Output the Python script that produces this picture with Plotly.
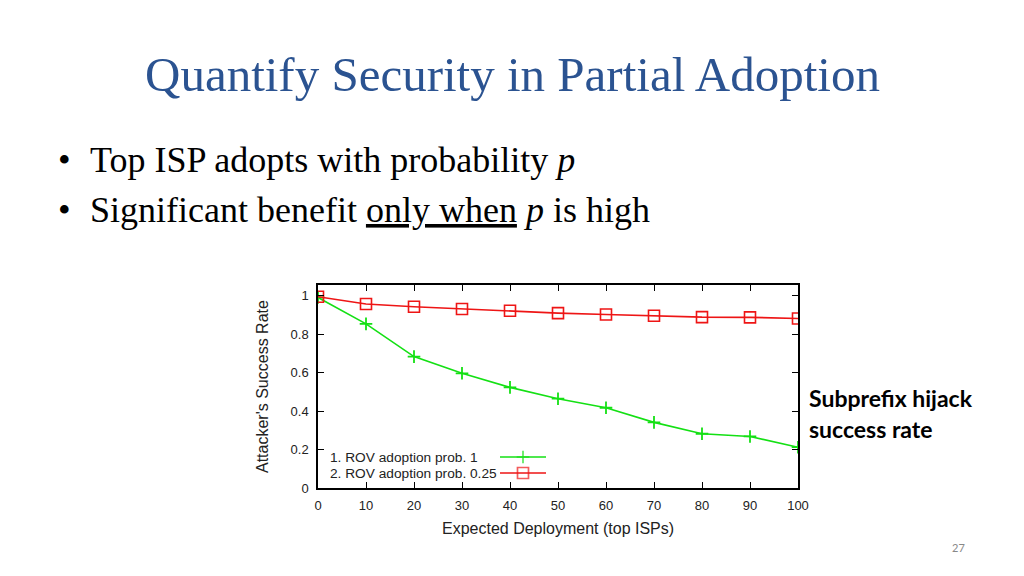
import plotly.graph_objects as go

# ---- data ----
deployment = [0, 10, 20, 30, 40, 50, 60, 70, 80, 90, 100]
rov_prob_1 = [0.99, 0.853, 0.683, 0.596, 0.523, 0.464, 0.417, 0.341, 0.282, 0.268, 0.212]
rov_prob_025 = [0.994, 0.956, 0.942, 0.930, 0.921, 0.909, 0.902, 0.895, 0.888, 0.887, 0.881]
y_ticks = [0, 0.2, 0.4, 0.6, 0.8, 1]
y_tick_text = ["0", "0.2", "0.4", "0.6", "0.8", "1"]
x_ticks = [0, 10, 20, 30, 40, 50, 60, 70, 80, 90, 100]
series_names = ["1. ROV adoption prob. 1", "2. ROV adoption prob. 0.25"]

GREEN = "#14e014"
RED = "#ee1515"

# page offset (browser body margin)
OFF = 8
# plot area in target-page pixels
L, R, T, B = 318, 798, 285, 488
W, H = 1024, 576


def px(x):
    return (x - L) / (R - L)


def py(y):
    return (B - y) / (B - T)


fig = go.Figure()
fig.add_trace(go.Scatter(
    x=deployment, y=rov_prob_1, mode="lines+markers", name=series_names[0],
    line=dict(color=GREEN, width=1.6),
    marker=dict(symbol="cross-thin", size=9, line=dict(color=GREEN, width=1.8)),
    showlegend=False))
fig.add_trace(go.Scatter(
    x=deployment, y=rov_prob_025, mode="lines+markers", name=series_names[1],
    line=dict(color=RED, width=1.6),
    marker=dict(symbol="square-open", size=11, color=RED, line=dict(color=RED, width=1.6)),
    showlegend=False))

# legend samples (gnuplot style: sample to the right of the text)
leg_y = [py(457), py(473)]
for i, (col, sym, sz) in enumerate([(GREEN, "cross-thin", 9), (RED, "square-open", 11)]):
    fig.add_trace(go.Scatter(
        x=[px(500), px(523), px(546)], y=[leg_y[i]] * 3, mode="lines+markers",
        xaxis="x2", yaxis="y2", showlegend=False, hoverinfo="skip",
        line=dict(color=col, width=1.6),
        marker=dict(symbol=sym, size=[0, sz, 0], color=col, line=dict(color=col, width=1.7))))

axis_common = dict(showgrid=False, zeroline=False, showline=True, linecolor="black",
                   linewidth=1.5, mirror="ticks", ticks="inside", ticklen=6,
                   tickcolor="black", tickwidth=1,
                   tickfont=dict(family="Liberation Sans, Arial", size=13, color="#222"))

fig.update_layout(
    width=W, height=H,
    margin=dict(l=L - OFF, r=W - R + OFF, t=T - OFF, b=H - B + OFF),
    paper_bgcolor="white", plot_bgcolor="white",
    xaxis=dict(range=[0, 100], tickvals=x_ticks, ticklabelstandoff=5, **axis_common),
    yaxis=dict(range=[0, 1.055], tickvals=y_ticks, ticktext=y_tick_text,
               ticklabelstandoff=5, **axis_common),
    xaxis2=dict(range=[0, 1], overlaying="x", visible=False, anchor="y2"),
    yaxis2=dict(range=[0, 1], overlaying="y", visible=False, anchor="x2"),
)

ann = []
# title
ann.append(dict(text="Quantify Security in Partial Adoption", x=px(512), y=py(74),
                font=dict(family="Liberation Serif, serif", size=49, color="#2B5391")))
# bullets
body_font = dict(family="Liberation Serif, serif", size=36, color="black")
ann.append(dict(text="•", x=px(56), y=py(160), xanchor="left", font=body_font))
ann.append(dict(text="•", x=px(56), y=py(210), xanchor="left", font=body_font))
ann.append(dict(text="Top ISP adopts with probability <i>p</i>", x=px(88), y=py(160),
                xanchor="left", font=body_font))
ann.append(dict(text="Significant benefit <u>only when</u> <i>p</i> is high", x=px(88), y=py(210),
                xanchor="left", font=body_font))
# side note
side_font = dict(family="Lato, Open Sans, sans-serif", size=23, color="black")
ann.append(dict(text="<b>Subprefix hijack</b>", x=px(807), y=py(398), xanchor="left", font=side_font))
ann.append(dict(text="<b>success rate</b>", x=px(807), y=py(429), xanchor="left", font=side_font))
# axis titles
ax_font = dict(family="Liberation Sans, Arial", size=16, color="#222")
ann.append(dict(text="Attacker's Success Rate", x=px(262), y=py(387), textangle=-90, font=ax_font))
ann.append(dict(text="Expected Deployment (top ISPs)", x=px(558), y=py(528), font=ax_font))
# legend text
leg_font = dict(family="Liberation Sans, Arial", size=13.7, color="#222")
ann.append(dict(text=series_names[0], x=px(328), y=py(457), xanchor="left", font=leg_font))
ann.append(dict(text=series_names[1], x=px(328), y=py(473), xanchor="left", font=leg_font))
# page number
ann.append(dict(text="27", x=px(958), y=py(547), font=dict(family="Lato, sans-serif", size=11, color="#888")))

for a in ann:
    a.setdefault("xanchor", "center")
    a.update(xref="paper", yref="paper", yanchor="middle", showarrow=False)
fig.update_layout(annotations=ann)

fig.write_html("out.html")
